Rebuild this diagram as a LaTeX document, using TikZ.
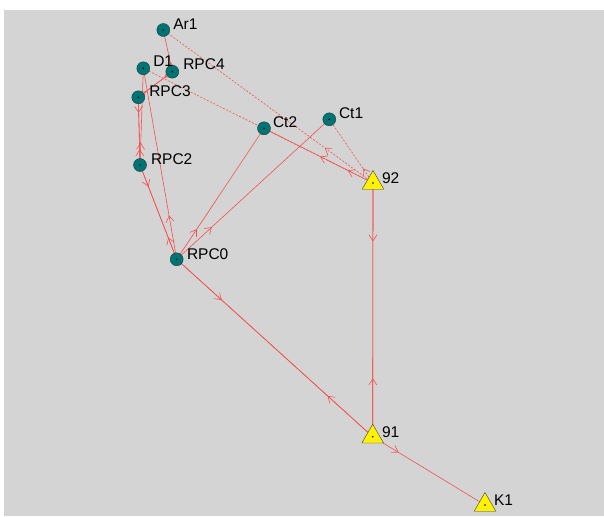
\documentclass[tikz,border=0pt]{standalone}
\usepackage{fontspec}
\setmainfont{Liberation Sans}
\usetikzlibrary{positioning,calc,arrows.meta,shapes.geometric,decorations.markings}
\pgfdeclarelayer{back}
\pgfdeclarelayer{ties}
\pgfsetlayers{back,ties,main}
\definecolor{panel}{RGB}{212,212,212}
\definecolor{tiered}{RGB}{245,80,80}
\definecolor{tealfill}{RGB}{0,116,116}
\definecolor{rimdark}{RGB}{25,60,60}

\begin{document}
\begin{tikzpicture}
	\begin{scope}[x=1pt, y=-1pt]
		\tikzstyle{every node}=[inner sep=0pt, outer sep=0pt]
		\tikzstyle{actor}=[circle, draw=rimdark, fill=tealfill, minimum size=13pt]
		\tikzstyle{site}=[regular polygon, regular polygon sides=3, draw=black!75, fill=yellow, minimum size=25pt]
		\tikzstyle{tag}=[anchor=base west, font=\fontsize{15.5}{16}\selectfont]
		\tikzstyle{tie}=[tiered, line width=0.6pt, postaction={decorate},
			decoration={markings, mark=at position 0.23 with {\arrow{Straight Barb[length=6pt, width=8pt]}}}]
		\tikzstyle{weak}=[tie, dash pattern=on 2pt off 1.6pt]

		\useasboundingbox (0,0) rectangle (604,516);
		\begin{pgfonlayer}{back}
			\fill [panel] (4,10) rectangle (604,516);
		\end{pgfonlayer}

		\node [actor] (ar1)  at (163.3, 30)    {};
		\node [actor] (d1)   at (143.3, 68.3)  {};
		\node [actor] (rpc4) at (172.3, 71.7)  {};
		\node [actor] (rpc3) at (138.3, 97.3)  {};
		\node [actor] (rpc2) at (140, 165)     {};
		\node [actor] (rpc0) at (176.7, 259.3) {};
		\node [actor] (ct2)  at (264, 128.3)   {};
		\node [actor] (ct1)  at (329.3, 119.3) {};

		\node [site] (s92) at (373, 183)   {};
		\node [site] (s91) at (372.7, 436.7) {};
		\node [site] (k1)  at (485, 505)   {};

		\foreach \n in {ar1, d1, rpc4, rpc3, rpc2, rpc0, ct2, ct1, s92, s91, k1}
			\fill [black] (\n.center) circle (0.9pt);

		\node [tag] (ar1t)  at (173.3, 30)  {Ar1};
		\node [tag] (d1t)   at (153.3, 67)  {D1};
		\node [tag] (rpc4t) at (183.3, 70)  {RPC4};
		\node [tag] (rpc3t) at (149.3, 97)  {RPC3};
		\node [tag] (rpc2t) at (151, 164)   {RPC2};
		\node [tag] (rpc0t) at (187, 259)   {RPC0};
		\node [tag] (ct2t)  at (273, 127)   {Ct2};
		\node [tag] (ct1t)  at (339, 118)   {Ct1};
		\node [tag] (s92t)  at (382, 183)   {92};
		\node [tag] (s91t)  at (382, 437)   {91};
		\node [tag] (k1t)   at (494, 505)   {K1};

		\begin{pgfonlayer}{ties}
			% faint ties out of 92
			\draw [weak] (s92.center) to (ar1.center);
			\draw [weak] (s92.center) to (d1.center);
			\draw [weak] (s92.center) to (ct1.center);

			\draw [tie] (s92.center) to (s91.center);
			\draw [tie] (s91.center) to (s92.center);
			\draw [tie] (rpc0.center) to (s91.center);
			\draw [tie] (s91.center) to (rpc0.center);
			\draw [tie] (s91.center) to (k1.center);

			\draw [tie] (s92.center) to (ct2.center);
			\draw [tie] (rpc0.center) to (ct2.center);
			\draw [tie] (rpc0.center) to (ct1.center);

			\draw [tie] (rpc0.center) to (d1.center);
			\draw [tie] (rpc0.center) to (rpc2.center);
			\draw [tie] (rpc2.center) to (rpc0.center);
			\draw [tie] (rpc2.center) to (d1.center);
			\draw [tie] (rpc2.center) to (rpc3.center);
			\draw [tie] (rpc3.center) to (rpc2.center);
			\draw [tie] (rpc4.center) to (rpc3.center);
			\draw [tie] (rpc3.center) to (rpc4.center);
			\draw [tie] (rpc4.center) to (ar1.center);
		\end{pgfonlayer}
	\end{scope}
\end{tikzpicture}
\end{document}
